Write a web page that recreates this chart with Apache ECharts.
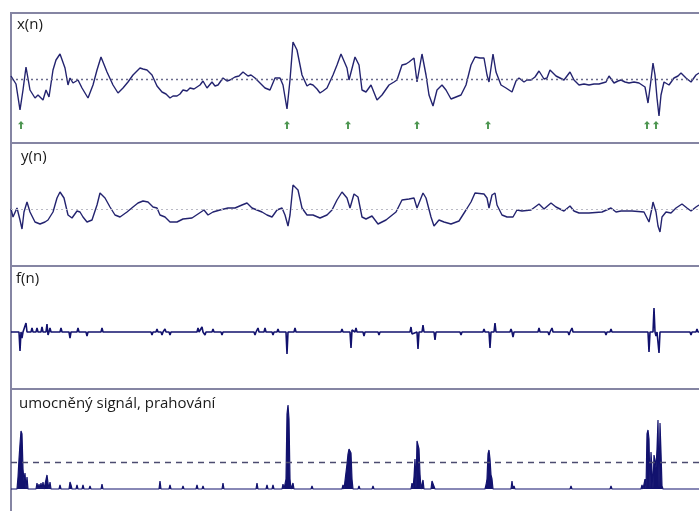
<!DOCTYPE html>
<html><head><meta charset="utf-8">
<script src="https://cdn.jsdelivr.net/npm/echarts@6/dist/echarts.min.js"></script>
<style>html,body{margin:0;padding:0;background:#fff}#c{width:699px;height:511px}</style>
</head><body><div id="c"></div>
<script>
// panel titles
const titles = ['x(n)', 'y(n)', 'f(n)', 'umocněný signál, prahování'];
// x(n): [sample n, value]
const xSignal = [[0,3],[2,1],[5,-5],[9,-31],[12,-11],[15,12],[19,-11],[24,-19],[27,-16],[29,-18],[32,-21],[35,-11],[38,-18],[42,9],[45,19],[49,25],[54,11],[57,-6],[59,1],[62,-4],[64,-2],[67,-1],[71,-9],[77,-19],[82,-6],[86,9],[90,22],[96,7],[102,-6],[107,-14],[112,-9],[117,-3],[122,4],[126,8],[129,11],[132,10],[136,9],[141,4],[146,-7],[151,-13],[155,-15],[159,-19],[162,-17],[166,-17],[169,-15],[172,-11],[176,-12],[179,-9],[183,-10],[186,-8],[189,-6],[192,-2],[196,-9],[201,-3],[204,-7],[207,-6],[212,1],[216,-2],[219,-1],[224,2],[228,3],[232,7],[234,5],[237,3],[240,4],[244,1],[249,-4],[254,-9],[259,-11],[264,1],[269,1],[272,-6],[276,-30],[279,-1],[282,37],[286,29],[291,4],[296,-7],[299,-5],[302,-6],[306,-10],[309,-14],[312,-12],[316,-9],[322,4],[326,14],[330,25],[336,11],[338,-1],[344,22],[348,14],[351,-11],[355,-13],[360,-6],[366,-21],[371,-16],[378,-6],[383,-3],[386,-1],[391,14],[395,15],[398,17],[403,21],[406,-3],[411,25],[415,4],[418,-16],[422,-27],[426,-11],[431,-6],[435,-11],[440,-20],[445,-18],[450,-16],[455,-6],[460,14],[464,22],[469,21],[473,21],[476,4],[478,-3],[482,25],[485,7],[490,-6],[495,-9],[501,-13],[505,-2],[508,1],[513,-3],[516,-1],[520,-1],[524,2],[528,8],[533,0],[536,1],[539,9],[542,6],[545,3],[549,1],[553,-1],[559,7],[563,-1],[568,-6],[573,-5],[578,-6],[583,-5],[588,-5],[595,-3],[598,3],[603,-4],[607,-2],[610,-1],[614,-3],[618,-4],[623,-3],[628,-4],[634,-8],[637,-24],[640,-1],[642,16],[644,4],[646,-19],[648,-37],[650,-16],[653,-3],[658,-6],[663,1],[667,3],[670,6],[675,1],[680,-3],[685,4],[688,6]];
// detected beats (arrows)
const beats = [10, 276, 337, 406, 477, 636, 645];
// y(n)
const ySignal = [[0,0],[1,-1],[2,-8],[6,1],[9,-11],[11,-20],[13,-3],[16,7],[19,-3],[24,-13],[29,-15],[34,-13],[37,-11],[42,-3],[46,11],[49,17],[53,11],[57,-6],[61,-9],[66,-2],[69,-3],[72,-8],[76,-13],[81,-11],[86,4],[89,16],[94,11],[99,2],[104,-6],[109,-8],[116,-3],[122,2],[127,6],[132,8],[137,7],[142,2],[146,1],[149,-6],[154,-8],[159,-13],[166,-13],[172,-10],[181,-9],[187,-5],[193,-1],[197,-6],[202,-3],[209,-1],[217,1],[224,1],[231,4],[236,6],[241,1],[246,-1],[251,-3],[256,-6],[261,-8],[266,-1],[271,1],[274,-6],[277,-17],[279,-6],[282,24],[287,19],[291,1],[296,-6],[302,-6],[309,-9],[316,-6],[321,-1],[326,9],[331,17],[336,11],[339,1],[343,15],[347,12],[351,-8],[355,-10],[361,-7],[367,-15],[375,-11],[385,-3],[391,9],[398,10],[403,11],[406,1],[408,1],[412,16],[415,11],[420,-8],[423,-17],[428,-11],[433,-13],[440,-15],[448,-12],[455,-1],[460,7],[464,16],[473,15],[476,11],[478,1],[481,14],[484,16],[486,4],[491,-6],[496,-8],[502,-8],[506,-1],[511,-2],[520,-1],[528,5],[533,0],[540,6],[545,2],[553,-2],[559,3],[563,-2],[568,-4],[578,-4],[591,-3],[600,1],[605,-3],[610,-2],[621,-2],[633,-3],[638,-13],[641,1],[642,7],[645,-3],[647,-17],[649,-23],[651,-8],[655,-3],[660,-4],[665,1],[671,5],[676,1],[680,-2],[685,2],[688,4]];
// f(n) spikes: [n, amplitude]
const fSpikes = [[9,-19],[11,-6],[15,9],[21,4],[26,4],[28,-2],[31,5],[36,8],[37,-3],[39,4],[50,4],[59,-6],[67,4],[76,-4],[91,4],[109,-2],[124,-2],[132,-2],[141,-3],[146,3],[151,-3],[154,3],[159,-3],[166,2],[172,-2],[187,4],[191,5],[194,-3],[202,3],[211,-3],[216,2],[236,-2],[244,-3],[247,4],[254,4],[262,-3],[267,3],[272,2],[276,-22],[284,4],[292,-2],[301,2],[309,-2],[331,3],[340,-16],[341,2],[345,4],[353,-4],[361,2],[368,-3],[393,2],[400,5],[401,-2],[407,-17],[412,7],[415,-2],[424,-8],[430,2],[440,-2],[450,-3],[466,2],[473,3],[479,-16],[484,9],[500,3],[502,-5],[515,-2],[528,4],[538,-3],[541,4],[558,-3],[561,4],[573,2],[581,-2],[595,-3],[600,3],[610,2],[621,-2],[631,2],[635,-2],[638,-20],[643,24],[645,-4],[648,-21],[655,2],[671,-2],[680,-3],[686,3]];
// squared signal bumps: [n, value]
const sqSpikes = [[7,12],[8,30],[9,45],[10,58],[11,55],[12,20],[13,8],[14,16],[16,12],[26,6],[28,5],[30,6],[32,7],[36,14],[37,6],[39,7],[49,4],[59,7],[60,4],[66,4],[72,4],[79,3],[91,5],[109,2],[149,8],[159,4],[172,3],[186,4],[192,3],[212,6],[246,6],[256,4],[262,4],[272,5],[275,10],[276,75],[277,84],[278,70],[279,10],[282,6],[301,3],[332,4],[336,25],[337,35],[338,40],[339,39],[340,36],[341,10],[348,3],[355,2],[362,3],[368,2],[401,6],[403,12],[404,30],[406,48],[407,50],[408,40],[409,15],[412,9],[421,8],[422,9],[423,8],[428,2],[441,2],[448,2],[466,2],[475,4],[476,10],[477,35],[478,39],[479,30],[480,14],[481,10],[501,8],[503,3],[528,2],[538,2],[560,3],[595,2],[600,3],[631,4],[634,10],[636,55],[637,59],[638,50],[640,37],[641,19],[643,34],[644,29],[645,21],[646,40],[647,69],[649,66],[650,37],[651,3],[671,1],[680,1],[686,1]];
const threshold = 27;

const NAVY = '#12126e';
const LINE = '#23236f';
const BORDER = '#8585a3';

function spikeLine(sp, last) {
  const out = [[0, 0]];
  for (let i = 0; i < sp.length; i++) {
    const n = sp[i][0];
    const prev = i > 0 ? sp[i - 1][0] : -10;
    const next = i < sp.length - 1 ? sp[i + 1][0] : 1e9;
    if (n - prev > 1) out.push([n - 1, 0]);
    out.push([n, sp[i][1]]);
    if (next - n > 1) out.push([n + 1, 0]);
  }
  out.push([last, 0]);
  return out;
}

const grids = [
  {left: 11, top: 13, width: 700, height: 130},
  {left: 11, top: 143, width: 700, height: 123},
  {left: 11, top: 266, width: 700, height: 123},
  {left: 11, top: 389, width: 700, height: 130}
].map(g => Object.assign(g, {show: true, borderColor: BORDER, borderWidth: 2, backgroundColor: 'transparent', containLabel: false, outerBoundsMode: 'none'}));

const yRanges = [[-64, 66], [-57, 66], [-57, 66], [-30, 100]];
const xAxes = grids.map((g, i) => ({type: 'value', gridIndex: i, min: 0, max: 700, show: false}));
const yAxes = yRanges.map((r, i) => ({type: 'value', gridIndex: i, min: r[0], max: r[1], show: false, splitLine: {show: false}}));

const titleFont = {fontFamily: 'Open Sans', fontSize: 15, color: '#1a1a1a', fontWeight: 'normal'};
const titlePos = [[17, 17], [21, 149], [16, 271], [19, 396]];

const chart = echarts.init(document.getElementById('c'), null, {renderer: 'canvas'});
chart.setOption({
  animation: false,
  backgroundColor: '#fff',
  title: titles.map((t, i) => ({text: t, left: titlePos[i][0], top: titlePos[i][1], padding: 0, textStyle: titleFont})),
  grid: grids,
  xAxis: xAxes,
  yAxis: yAxes,
  series: [
    {type: 'line', xAxisIndex: 0, yAxisIndex: 0, data: xSignal, showSymbol: false,
     lineStyle: {color: LINE, width: 1.4},
     markLine: {silent: true, symbol: 'none', label: {show: false},
       lineStyle: {color: '#6c6c8c', type: [2, 3], width: 1.3}, data: [{yAxis: 0}]}},
    {type: 'scatter', xAxisIndex: 0, yAxisIndex: 0, data: beats.map(n => [n, -46]),
     symbol: 'path://M5,0 L10,5 L6.6,5 L6.6,12 L3.4,12 L3.4,5 L0,5 Z', symbolSize: [6, 8],
     itemStyle: {color: '#1f7a24'}},
    {type: 'line', xAxisIndex: 1, yAxisIndex: 1, data: ySignal, showSymbol: false,
     lineStyle: {color: LINE, width: 1.4},
     markLine: {silent: true, symbol: 'none', label: {show: false},
       lineStyle: {color: '#b9b9c4', type: [2, 3], width: 1.2}, data: [{yAxis: 0}]}},
    {type: 'line', xAxisIndex: 2, yAxisIndex: 2, data: spikeLine(fSpikes, 688), showSymbol: false,
     lineStyle: {color: NAVY, width: 1.6}},
    {type: 'line', xAxisIndex: 3, yAxisIndex: 3, data: spikeLine(sqSpikes, 688), showSymbol: false,
     lineStyle: {color: NAVY, width: 1.2}, areaStyle: {color: NAVY, opacity: 1, origin: 0},
     markLine: {silent: true, symbol: 'none', label: {show: false},
       lineStyle: {color: '#4c4c70', type: [6, 5], width: 1.4}, data: [{yAxis: threshold}]}}
  ]
});
</script></body></html>
